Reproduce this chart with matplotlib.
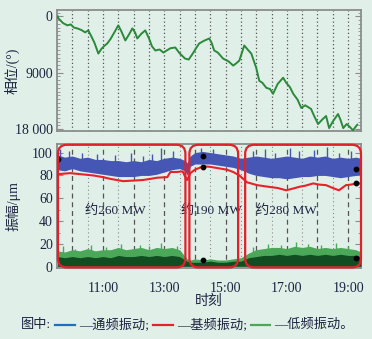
import matplotlib
matplotlib.use("Agg")
import matplotlib.pyplot as plt
import numpy as np
from matplotlib.patches import FancyBboxPatch
from matplotlib.transforms import IdentityTransform
from matplotlib.ticker import MultipleLocator
from matplotlib.offsetbox import TextArea, DrawingArea, HPacker, AnchoredOffsetbox
from matplotlib.lines import Line2D

FAM = ['Liberation Serif', 'Noto Sans CJK SC']
BG = '#e1efe9'
TXT = '#1c2440'

# ---------------- data ----------------
phase_t = [9.52, 9.54, 9.7, 9.84, 9.95, 10.05, 10.16, 10.3, 10.42, 10.52, 10.6, 10.72, 10.85, 10.95,
           11.05, 11.14, 11.25, 11.38, 11.50, 11.6, 11.73, 11.85, 11.96, 12.05, 12.12, 12.25, 12.38,
           12.5, 12.6, 12.71, 12.85, 12.97, 13.1, 13.2, 13.36, 13.5, 13.68, 13.8, 13.95, 14.05, 14.14,
           14.3, 14.47, 14.55, 14.63, 14.75, 14.92, 15.1, 15.25, 15.35, 15.45, 15.61, 15.72, 15.84,
           16.0, 16.10, 16.2, 16.33, 16.45, 16.55, 16.7, 16.88, 16.98, 17.1, 17.21, 17.35, 17.47,
           17.6, 17.79, 17.9, 18.02, 18.15, 18.28, 18.38, 18.5, 18.67, 18.75, 18.84, 18.95, 19.03,
           19.16, 19.26, 19.3]
phase_v = [0, 300, 1100, 1450, 1300, 1800, 1930, 2200, 2570, 2250, 3000, 4200, 5950, 5200,
           4700, 4340, 3600, 2500, 1450, 2400, 3860, 2900, 1930, 2600, 3540, 2800, 2250,
           3500, 4800, 5460, 5300, 5790, 5400, 5100, 4980, 5900, 6750, 6900, 5790, 5000, 4340,
           3900, 3540, 4300, 5460, 5800, 6750, 7200, 7870, 7500, 7070, 4660, 5300, 5950,
           8200, 10290, 10600, 11410, 11600, 12370, 10800, 9800, 10610, 11300, 12370, 13300, 14620,
           14200, 14780, 16000, 17190, 16500, 15910, 17840, 16800, 15590, 16500, 17840, 17200, 17520,
           18200, 17520, 17300]

band_t = [9.52, 9.75, 10.0, 10.25, 10.5, 10.75, 11.0, 11.25, 11.5, 11.75, 12.0, 12.25, 12.5, 12.75,
          13.0, 13.25, 13.5, 13.68, 13.75, 13.85, 14.0, 14.25, 14.5, 14.75, 15.0, 15.25, 15.5,
          15.75, 16.0, 16.25, 16.5, 16.75, 17.0, 17.25, 17.5, 17.75, 18.0, 18.25, 18.5, 18.75,
          19.0, 19.25, 19.42]
blue_hi = [98, 96, 97, 95, 96, 94, 94, 93, 93, 92, 93, 92, 94, 93,
           95, 96, 95, 93, 91, 97, 100, 101, 100, 99, 98, 97, 95,
           96, 97, 96, 95, 96, 97, 96, 95, 97, 96, 97, 95, 96,
           95, 96, 95]
blue_lo = [85, 84, 86, 84, 83, 82, 81, 80, 79, 79, 79, 80, 80, 81,
           83, 85, 86, 84, 80, 88, 90, 90, 90, 89, 88, 87, 85,
           82, 80, 79, 78, 78, 77, 78, 79, 79, 80, 80, 79, 78,
           79, 80, 81]
green_dark = [9, 8, 9, 8, 9, 8, 9, 8, 10, 9, 9, 10, 9, 10,
              9, 10, 9, 6, 5, 4, 4, 4, 5, 4, 4, 5, 5,
              8, 9, 10, 10, 11, 10, 11, 10, 11, 10, 11, 10, 11,
              10, 10, 9]
green_light = [14, 13, 15, 14, 16, 14, 15, 15, 17, 15, 16, 17, 15, 17,
               16, 17, 15, 9, 7, 6, 7, 6, 7, 6, 6, 7, 8,
               12, 15, 16, 17, 17, 16, 18, 17, 18, 16, 17, 16, 17,
               16, 15, 13]

blue_spike_t = [9.6, 9.9, 10.3, 10.8, 11.4, 11.9, 12.3, 12.6, 12.9, 13.3, 14.2, 14.6, 15.9, 16.3,
                16.6, 17.1, 17.4, 17.9, 18.3, 18.7, 19.1]
blue_spike_v = [103, 101, 100, 99, 98, 100, 97, 99, 104, 101, 104, 103, 101, 103,
                100, 104, 101, 102, 105, 100, 101]
green_spike_t = [9.7, 10.1, 10.6, 11.1, 11.6, 12.2, 12.5, 12.9, 13.4, 15.9, 16.4, 16.8, 17.3,
                 17.7, 18.1, 18.6, 19.0]
green_spike_v = [18, 16, 19, 17, 20, 19, 18, 21, 18, 17, 20, 19, 22, 20, 19, 21, 18]

red_t = [9.52, 9.7, 9.93, 10.3, 10.68, 11.0, 11.24, 11.45, 11.66, 12.0, 12.31, 12.55, 12.77, 13.10,
         13.2, 13.4, 13.6, 13.68, 13.75, 13.85, 14.0, 14.27, 14.5, 14.83, 15.05, 15.25, 15.45,
         15.7, 16.03, 16.42, 16.7, 16.98, 17.2, 17.4, 17.6, 17.86, 18.05, 18.28, 18.5, 18.7,
         18.93, 19.1, 19.26, 19.42]
red_v = [81, 81.5, 82, 81, 80, 78.5, 77, 76, 75, 75.5, 76, 77, 78, 78.5,
         83, 83, 83.5, 79, 76, 82, 85, 88, 87.5, 86, 85, 83, 80,
         74, 71.5, 70, 69, 67, 68.5, 70, 71, 73, 72, 71.5, 69, 67,
         71.5, 72, 73, 73]

dot_t = [9.53, 14.27, 14.27, 14.27, 19.26, 19.26, 19.26]
dot_v = [94, 97, 87, 6, 86, 73, 8]

regions = [(9.53, 13.69), (13.82, 15.41), (15.64, 19.42)]
region_labels = ['约260 MW', '约190 MW', '约280 MW']
region_label_x = [11.4, 14.53, 17.0]

xtick_hours = [11, 13, 15, 17, 19]
xtick_labels = ['11:00', '13:00', '15:00', '17:00', '19:00']
hour_lines = [10, 11, 12, 13, 14, 15, 16, 17, 18, 19]
half_lines = [10.5, 11.5, 12.5, 13.5, 14.5, 15.5, 16.5, 17.5, 18.5]

# ---------------- figure ----------------
fig = plt.figure(figsize=(3.72, 3.39), dpi=100, facecolor=BG)
ax1 = fig.add_axes([57/372, 1-131/339, 304/372, 121/339], facecolor=BG)
ax2 = fig.add_axes([57/372, 1-268/339, 304/372, 124/339], facecolor=BG)

XL = (9.5, 19.42)
for ax in (ax1, ax2):
    ax.set_xlim(*XL)
    for s in ax.spines.values():
        s.set_color('#8c8c8c')
        s.set_linewidth(1.3)

# top
for h in hour_lines + half_lines:
    ax1.axvline(h, color='#555555', lw=0.9, ls=(0, (1, 2)), zorder=1)
ax1.plot(phase_t, phase_v, color='#2a8a3a', lw=1.4, zorder=3)
ax1.set_ylim(18300, -1000)
ax1.set_yticks([0, 9000, 18000])
ax1.set_yticklabels(['0', '9000', '18 000'])
ax1.yaxis.set_minor_locator(MultipleLocator(600))
ax1.tick_params(axis='y', which='both', direction='in', right=True, left=True, colors='#8c8c8c',
                labelcolor=TXT, labelsize=10, pad=3)
ax1.tick_params(axis='y', which='major', length=4)
ax1.tick_params(axis='y', which='minor', length=2)
ax1.set_xticks([])
for lab in ax1.get_yticklabels():
    lab.set_family(FAM)
ax1.set_ylabel('相位/(°)', family=FAM, fontsize=10, color=TXT)
ax1.yaxis.set_label_coords((20 - 57) / 304, 0.5)

# bottom
for h in hour_lines:
    ax2.axvline(h, color='#555555', lw=0.9, ls=(0, (4, 3)), zorder=1)
for h in half_lines:
    ax2.axvline(h, color='#8a8a8a', lw=0.8, ls=(0, (1, 2.5)), zorder=1)

ax2.vlines(blue_spike_t, 90, blue_spike_v, color='#4656b5', lw=1.0, zorder=2)
ax2.fill_between(band_t, blue_lo, blue_hi, color='#4656b5', lw=0, zorder=2)
ax2.vlines(green_spike_t, 5, green_spike_v, color='#49a957', lw=1.0, zorder=2)
ax2.fill_between(band_t, 0.5, green_light, color='#4aa858', lw=0, zorder=2)
ax2.fill_between(band_t, 0.5, green_dark, color='#124d22', lw=0, zorder=3)
ax2.plot(red_t, red_v, color='#e8222a', lw=1.5, zorder=4)
ax2.scatter(dot_t, dot_v, s=10, color='black', zorder=6)

ax2.set_ylim(-1, 107.5)
ax2.set_yticks([0, 20, 40, 60, 80, 100])
ax2.yaxis.set_minor_locator(MultipleLocator(10))
ax2.tick_params(axis='y', which='both', direction='in', right=True, left=True, colors='#8c8c8c',
                labelcolor=TXT, labelsize=10, pad=3)
ax2.tick_params(axis='y', which='major', length=4)
ax2.tick_params(axis='y', which='minor', length=2)
ax2.set_xticks(xtick_hours)
ax2.set_xticklabels(xtick_labels)
ax2.tick_params(axis='x', direction='in', length=0, labelcolor=TXT, labelsize=10, pad=10)
for lab in ax2.get_yticklabels() + ax2.get_xticklabels():
    lab.set_family(FAM)
ax2.set_ylabel('振幅/μm', family=FAM, fontsize=10, color=TXT)
ax2.yaxis.set_label_coords((20 - 57) / 304, 0.5)
ax2.set_xlabel('时刻', family=FAM, fontsize=10, color=TXT, labelpad=0)

for lx, lt in zip(region_label_x, region_labels):
    ax2.text(lx, 49, lt, family=FAM, fontsize=9.5, color=TXT, ha='center', va='center', zorder=7)

# rounded red region frames (drawn in pixel space so corners stay round)
fig.canvas.draw()
for (a, b) in regions:
    (x0, y0) = ax2.transData.transform((a, -0.5))
    (x1, y1) = ax2.transData.transform((b, 106.8))
    p = FancyBboxPatch((x0, y0), x1 - x0, y1 - y0,
                       boxstyle='round,pad=0,rounding_size=9', fill=False,
                       ec='#e3202a', lw=1.6, transform=IdentityTransform(), zorder=8)
    fig.patches.append(p)
    p.set_figure(fig)

# legend line
def tbox(s):
    return TextArea(s, textprops=dict(family=FAM, fontsize=9.5, color=TXT))

def lbox(c):
    da = DrawingArea(16, 8, 0, 0)
    da.add_artist(Line2D([1, 15], [4, 4], color=c, lw=1.6))
    return da

items = [tbox('图中:'), lbox('#1f6fc0'), tbox('—通频振动;'), lbox('#e8222a'),
         tbox('—基频振动;'), lbox('#4aa858'), tbox('—低频振动。')]
pack = HPacker(children=items, align='center', pad=0, sep=2)
ab = AnchoredOffsetbox(loc='center', child=pack, frameon=False,
                       bbox_to_anchor=(0.504, 1 - 325/339), bbox_transform=fig.transFigure,
                       borderpad=0, pad=0)
fig.add_artist(ab)

fig.savefig('out.png', dpi=100, facecolor=BG)
